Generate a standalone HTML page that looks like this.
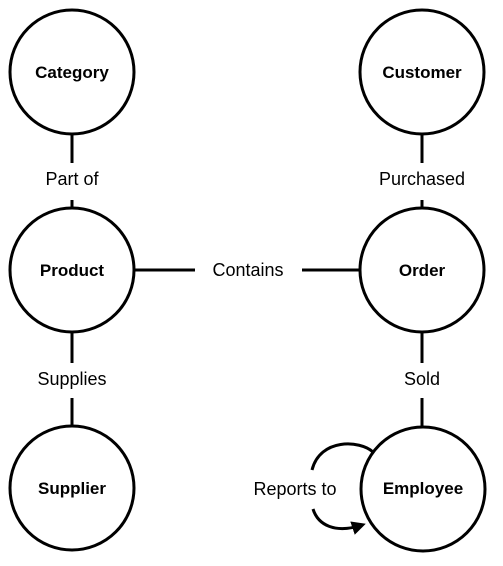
<!DOCTYPE html>
<html><head><style>body{margin:0;background:#fff}svg{display:block}</style></head><body>
<svg width="503" height="566" viewBox="0 0 503 566" xmlns="http://www.w3.org/2000/svg">
<defs><marker id="a" markerWidth="14" markerHeight="14" refX="10" refY="7" orient="auto" markerUnits="userSpaceOnUse"><path d="M0,0 L14,7 L0,14 z" fill="#000"/></marker></defs>
<g stroke="#000" stroke-width="3" fill="none">
<circle cx="72" cy="72" r="62"/><circle cx="422" cy="72" r="62"/>
<circle cx="72" cy="270" r="62"/><circle cx="422" cy="270" r="62"/>
<circle cx="72" cy="488" r="62"/><circle cx="423" cy="489" r="62"/>
<line x1="72" y1="134" x2="72" y2="163"/><line x1="72" y1="200" x2="72" y2="208"/>
<line x1="422" y1="134" x2="422" y2="163"/><line x1="422" y1="200" x2="422" y2="208"/>
<line x1="72" y1="332" x2="72" y2="363"/><line x1="72" y1="398" x2="72" y2="426"/>
<line x1="422" y1="332" x2="422" y2="363"/><line x1="422" y1="398" x2="422" y2="427"/>
<line x1="134" y1="270" x2="195" y2="270"/><line x1="302" y1="270" x2="360" y2="270"/>
<path d="M373,452 C360,440 320,438 312,470"/>
<path d="M313,509 C318,525 335,534 362,525" marker-end="url(#a)"/>
</g>
<g font-family="Liberation Sans, sans-serif" text-anchor="middle" fill="#000">
<g font-weight="bold" font-size="17"><text x="72" y="78">Category</text><text x="422" y="78">Customer</text>
<text x="72" y="276">Product</text><text x="422" y="276">Order</text>
<text x="72" y="494">Supplier</text><text x="423" y="494">Employee</text></g>
<g font-size="18">
<text x="72" y="185">Part of</text><text x="422" y="185">Purchased</text>
<text x="72" y="385">Supplies</text><text x="422" y="385">Sold</text>
<text x="248" y="276">Contains</text><text x="295" y="495">Reports to</text></g>
</g>
</svg>
</body></html>
